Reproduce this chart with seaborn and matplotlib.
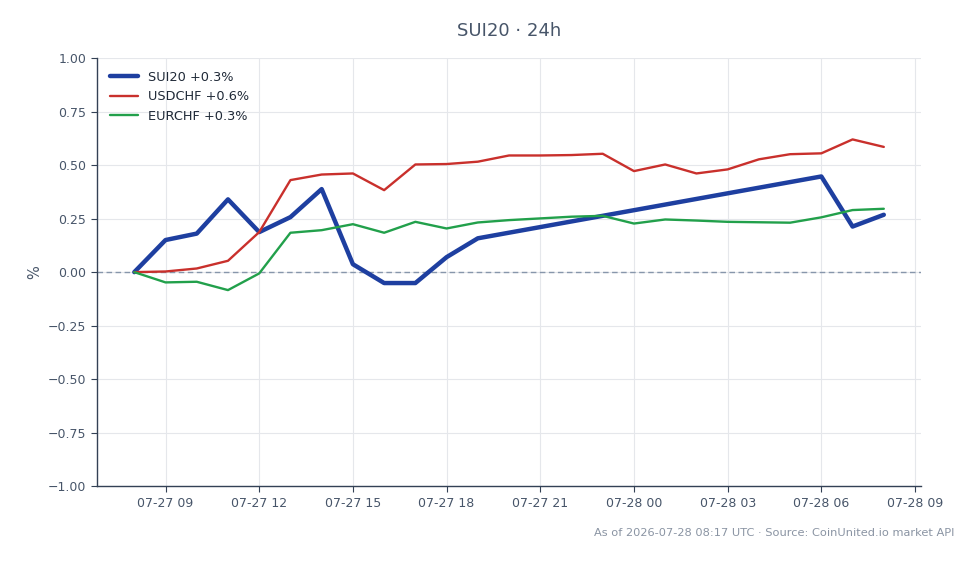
import matplotlib
matplotlib.use("Agg")
import matplotlib.pyplot as plt
import matplotlib.dates as mdates
import seaborn as sns
import pandas as pd

# Data (hourly, % change over 24h)
start = pd.Timestamp("2026-07-27 08:00")
hours = pd.date_range(start, periods=25, freq="h")

# SUI20 has a gap between 19:00 and 06:00
sui20_idx = list(range(0, 12)) + [22, 23, 24]
sui20 = [0.0, 0.15, 0.18, 0.34, 0.187, 0.257, 0.388, 0.037, -0.051, -0.051,
         0.07, 0.158, 0.447, 0.213, 0.268]
usdchf = [0.0, 0.003, 0.017, 0.053, 0.187, 0.43, 0.456, 0.461, 0.383, 0.503,
          0.505, 0.516, 0.545, 0.545, 0.547, 0.553, 0.472, 0.503, 0.461, 0.48,
          0.527, 0.551, 0.555, 0.62, 0.585]
eurchf = [0.0, -0.048, -0.045, -0.084, -0.006, 0.184, 0.196, 0.224, 0.184, 0.235,
          0.204, 0.232, 0.243, 0.251, 0.259, 0.263, 0.227, 0.246, 0.241, 0.235,
          0.233, 0.231, 0.256, 0.29, 0.296]

labels = ["SUI20 +0.3%", "USDCHF +0.6%", "EURCHF +0.3%"]
colors = ["#1e3fa0", "#c9302c", "#22a04b"]

sns.set_style("white")
plt.rcParams["font.family"] = ["DejaVu Sans"]

fig = plt.figure(figsize=(9.78, 5.64), dpi=100)
ax = fig.add_axes([0.099, 0.138, 0.843, 0.759])

sns.lineplot(x=hours[sui20_idx], y=sui20, ax=ax, color=colors[0], linewidth=3.2, label=labels[0])
sns.lineplot(x=hours, y=usdchf, ax=ax, color=colors[1], linewidth=1.7, label=labels[1])
sns.lineplot(x=hours, y=eurchf, ax=ax, color=colors[2], linewidth=1.7, label=labels[2])

ax.axhline(0, color="#8796ab", linestyle=(0, (4, 2.5)), linewidth=1, zorder=1.5)

ax.set_ylim(-1, 1)
ax.set_yticks([-1, -0.75, -0.5, -0.25, 0, 0.25, 0.5, 0.75, 1])
ax.yaxis.set_major_formatter(plt.FuncFormatter(lambda v, p: f"{v:.2f}".replace("-", "\u2212")))
ax.xaxis.set_major_locator(mdates.HourLocator(byhour=range(0, 24, 3)))
ax.xaxis.set_major_formatter(mdates.DateFormatter("%m-%d %H"))

ax.grid(True, color="#e5e7eb", linewidth=0.8)
ax.set_axisbelow(True)
for s in ["top", "right"]:
    ax.spines[s].set_visible(False)
for s in ["left", "bottom"]:
    ax.spines[s].set_color("#334155")
    ax.spines[s].set_linewidth(1)
ax.tick_params(axis="both", colors="#334155", labelcolor="#475569", labelsize=9,
               length=4, direction="out", bottom=True, left=True)

ax.set_xlabel("")
ax.set_ylabel("%", color="#475569", fontsize=10.5)
ax.set_title("SUI20 · 24h", color="#475569", fontsize=13, pad=16)

leg = ax.legend(loc="upper left", frameon=False, fontsize=9.3,
                borderaxespad=0.6, handlelength=2.2)
for t in leg.get_texts():
    t.set_color("#1f2937")

fig.text(0.976, 0.055, "As of 2026-07-28 08:17 UTC · Source: CoinUnited.io market API",
         ha="right", va="center", fontsize=8.2, color="#8a94a3")

fig.savefig("out.png", dpi=100)
